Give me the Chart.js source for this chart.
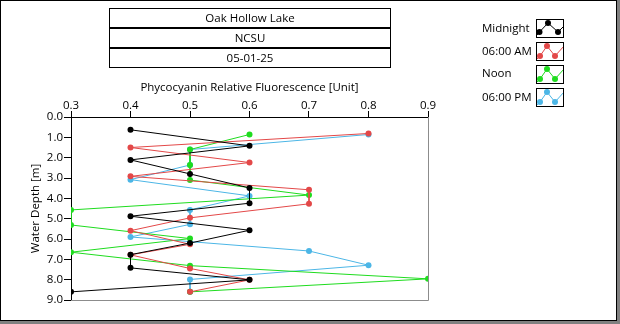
<!DOCTYPE html>
<html>
<head>
<meta charset="utf-8">
<script src="https://cdn.jsdelivr.net/npm/chart.js@4/dist/chart.umd.min.js"></script>
<style>
  html, body { margin: 0; padding: 0; background: #fff; }
  #wrap { position: relative; width: 620px; height: 324px; overflow: hidden; background: #fff;
          font-family: "Open Sans", "Noto Sans", sans-serif; font-size: 11.5px; color: #000; }
  #frameGray { position: absolute; left: 0; top: 0; width: 620px; height: 324px; background: #808080; }
  #frameBlack { position: absolute; left: 0; top: 0; width: 617px; height: 321px; box-sizing: border-box;
                border: 1px solid #000; background: #fff; }
  canvas { position: absolute; left: 0; top: 0; }
  .tbox { position: absolute; left: 109px; width: 282px; height: 20px; box-sizing: border-box;
          border: 1px solid #000; text-align: center; line-height: 18px; }
  .lbl { position: absolute; left: 482px; height: 18px; line-height: 18px; white-space: nowrap; }
</style>
</head>
<body>
<div id="wrap">
  <div id="frameGray"></div>
  <div id="frameBlack"></div>
  <canvas id="c" width="620" height="324"></canvas>
  <div class="tbox" style="top:8px">Oak Hollow Lake</div>
  <div class="tbox" style="top:28px">NCSU</div>
  <div class="tbox" style="top:48px">05-01-25</div>
  <div class="lbl" style="top:19px">Midnight</div>
  <div class="lbl" style="top:42px">06:00 AM</div>
  <div class="lbl" style="top:64px">Noon</div>
  <div class="lbl" style="top:88px">06:00 PM</div>
</div>
<script>
// ---- data ----
const seriesNames = ["Midnight", "06:00 AM", "Noon", "06:00 PM"];
const depthMidnight = [0.63, 1.42, 2.11, 2.80, 3.49, 4.24, 4.88, 5.57, 6.20, 6.77, 7.42, 8.01, 8.60];
const valueMidnight = [0.4, 0.6, 0.4, 0.5, 0.6, 0.6, 0.4, 0.6, 0.5, 0.4, 0.4, 0.6, 0.3];
const depth0600AM = [0.81, 1.50, 2.24, 2.92, 3.58, 4.27, 4.96, 5.59, 6.26, 6.78, 7.45, 8.01, 8.60];
const value0600AM = [0.8, 0.4, 0.6, 0.4, 0.7, 0.7, 0.5, 0.4, 0.5, 0.4, 0.5, 0.6, 0.5];
const depthNoon = [0.86, 1.60, 2.36, 3.10, 3.84, 4.57, 5.31, 5.98, 6.65, 7.31, 7.96, 8.60];
const valueNoon = [0.6, 0.5, 0.5, 0.5, 0.7, 0.3, 0.3, 0.5, 0.3, 0.5, 0.9, 0.5];
const depth0600PM = [0.86, 1.60, 2.36, 3.08, 3.88, 4.57, 5.28, 5.90, 6.59, 7.29, 7.99, 8.60];
const value0600PM = [0.8, 0.5, 0.5, 0.4, 0.6, 0.5, 0.5, 0.4, 0.7, 0.8, 0.5, 0.5];
const xTicks = [0.3, 0.4, 0.5, 0.6, 0.7, 0.8, 0.9];
const yTicks = [0, 1, 2, 3, 4, 5, 6, 7, 8, 9];
const seriesColors = ["#000000", "#e34848", "#1fdc1f", "#4cb6e6"];

function pts(xs, ys) { return xs.map((v, i) => ({ x: v, y: ys[i] })); }
const seriesData = [
  pts(valueMidnight, depthMidnight),
  pts(value0600AM, depth0600AM),
  pts(valueNoon, depthNoon),
  pts(value0600PM, depth0600PM)
];

const FONT = "'Open Sans', 'Noto Sans', sans-serif";
const FS = 11.5;

const framePlugin = {
  id: 'framePlugin',
  afterDraw(chart) {
    const ctx = chart.ctx, a = chart.chartArea;
    ctx.save();
    ctx.strokeStyle = '#8c8c8c';
    ctx.lineWidth = 1;
    ctx.beginPath();
    ctx.moveTo(Math.round(a.right) + 0.5, Math.round(a.top));
    ctx.lineTo(Math.round(a.right) + 0.5, Math.round(a.bottom) + 0.5);
    ctx.lineTo(Math.round(a.left), Math.round(a.bottom) + 0.5);
    ctx.stroke();
    ctx.restore();
  }
};

const legendPlugin = {
  id: 'legendIcons',
  afterDraw(chart) {
    const ctx = chart.ctx;
    const boxTops = [19, 42, 65, 88];
    chart.data.datasets.forEach((ds, i) => {
      const x0 = 536, y0 = boxTops[i], w = 28, h = 19;
      ctx.save();
      ctx.fillStyle = '#fff';
      ctx.fillRect(x0, y0, w, h);
      ctx.strokeStyle = '#000';
      ctx.lineWidth = 1;
      ctx.strokeRect(x0 + 0.5, y0 + 0.5, w - 1, h - 1);
      ctx.beginPath();
      ctx.rect(x0 + 1, y0 + 1, w - 2, h - 2);
      ctx.clip();
      const c = ds.borderColor;
      let line, marks;
      if (i === 0) {
        line = [[x0 + 1, y0 + 16], [x0 + 3.5, y0 + 13], [x0 + 12, y0 + 4], [x0 + 22, y0 + 13], [x0 + 28, y0 + 7]];
        marks = [[x0 + 3.5, y0 + 13], [x0 + 12, y0 + 4], [x0 + 22, y0 + 13]];
      } else {
        line = [[x0 + 1, y0 + 17], [x0 + 4, y0 + 14], [x0 + 11, y0 + 4], [x0 + 19, y0 + 14], [x0 + 28, y0 + 4]];
        marks = [[x0 + 4, y0 + 14], [x0 + 11, y0 + 4], [x0 + 19, y0 + 14]];
      }
      ctx.strokeStyle = c;
      ctx.beginPath();
      line.forEach((p, k) => k ? ctx.lineTo(p[0], p[1]) : ctx.moveTo(p[0], p[1]));
      ctx.stroke();
      ctx.fillStyle = c;
      marks.forEach(p => { ctx.beginPath(); ctx.arc(p[0], p[1], 3, 0, Math.PI * 2); ctx.fill(); });
      ctx.restore();
    });
  }
};

new Chart(document.getElementById('c'), {
  type: 'scatter',
  data: {
    datasets: seriesNames.map((name, i) => ({
      label: name,
      data: seriesData[i],
      showLine: true,
      borderColor: seriesColors[i],
      backgroundColor: seriesColors[i],
      borderWidth: 1,
      pointRadius: 3,
      pointHoverRadius: 3,
      pointBorderWidth: 0,
      tension: 0
    }))
  },
  options: {
    responsive: false,
    animation: false,
    events: [],
    layout: { padding: { left: 0, top: 0, right: 192, bottom: 24 } },
    plugins: { legend: { display: false }, tooltip: { enabled: false }, title: { display: false } },
    scales: {
      x: {
        type: 'linear',
        position: 'top',
        min: 0.3, max: 0.9,
        afterBuildTicks(s) { s.ticks = xTicks.map(v => ({ value: v })); },
        afterFit(s) { s.height = 117; },
        ticks: {
          color: '#000', padding: 0, maxRotation: 0, autoSkip: false,
          font: { family: FONT, size: FS, lineHeight: 1 },
          callback: v => Number(v).toFixed(1)
        },
        grid: { drawOnChartArea: false, drawTicks: true, tickLength: 6, tickColor: '#000', tickWidth: 1 },
        border: { display: true, color: '#000', width: 1 },
        title: {
          display: true, text: 'Phycocyanin Relative Fluorescence [Unit]', color: '#000',
          font: { family: FONT, size: FS }, padding: { top: 81, bottom: 0 }
        }
      },
      y: {
        type: 'linear',
        position: 'left',
        reverse: true,
        min: 0, max: 9,
        afterBuildTicks(s) { s.ticks = yTicks.map(v => ({ value: v })); },
        afterFit(s) { s.width = 71; },
        ticks: {
          color: '#000', padding: 1, autoSkip: false,
          font: { family: FONT, size: FS },
          callback: v => Number(v).toFixed(1)
        },
        grid: { drawOnChartArea: false, drawTicks: true, tickLength: 7, tickColor: '#000', tickWidth: 1 },
        border: { display: true, color: '#000', width: 1 },
        title: {
          display: true, text: 'Water Depth [m]', color: '#000',
          font: { family: FONT, size: FS }, padding: { top: 29, bottom: 0 }
        }
      }
    }
  },
  plugins: [framePlugin, legendPlugin]
});
</script>
</body>
</html>
